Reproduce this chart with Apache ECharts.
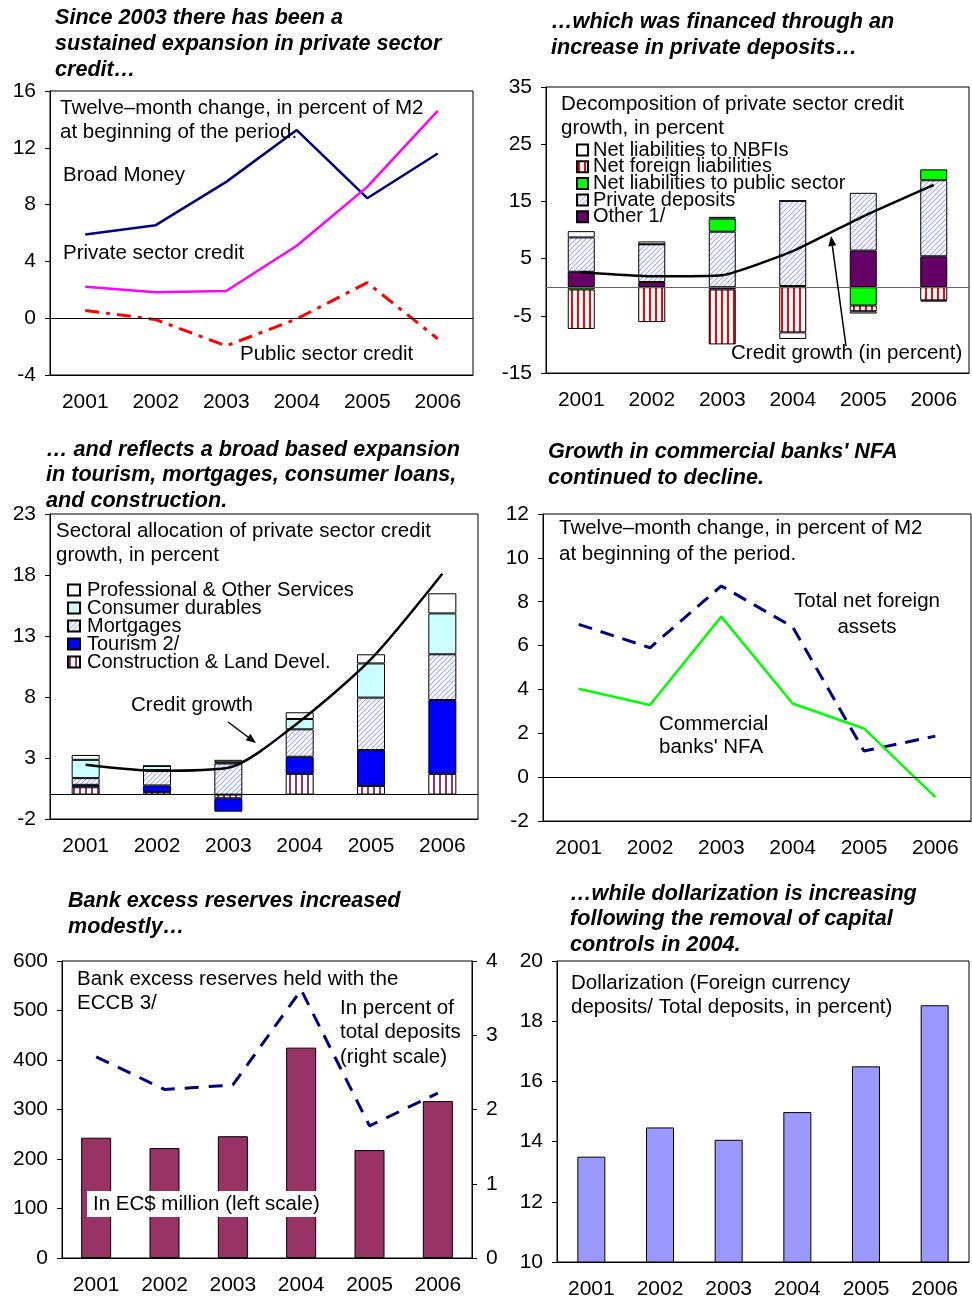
<!DOCTYPE html>
<html>
<head>
<meta charset="utf-8">
<script src="https://cdn.jsdelivr.net/npm/echarts@6/dist/echarts.min.js"></script>
<style>
  html, body { margin: 0; padding: 0; background: #fff; }
  #chart { width: 972px; height: 1301px; }
</style>
</head>
<body>
<div id="chart"></div>
<script>
const years = ['2001', '2002', '2003', '2004', '2005', '2006']

// panel 1 - money and credit
const broadMoney = [5.9, 6.55, 9.6, 13.25, 8.45, 11.6]
const privateCredit = [2.22, 1.82, 1.92, 5.1, 9.25, 14.6]
const publicCredit = [0.55, -0.1, -1.95, -0.05, 2.5, -1.45]

// panel 2 - decomposition of credit growth
const otherDec = [2.7, 0.9, -0.4, 0.2, 6.4, 5.4]
const privDeposits = [6.0, 6.6, 9.7, 14.9, 10.1, 13.3]
const publicLiab = [-0.4, 0, 2.3, 0, -3.2, 1.9]
const foreignLiab = [-6.9, -6.1, -9.6, -7.9, -1.0, -2.3]
const nbfiLiab = [1.1, 0.5, 0.3, -1.15, -0.4, -0.2]
const creditGrowthDec = [2.6, 1.9, 2.1, 6.3, 12.4, 17.9]

// panel 3 - sectoral allocation
const construction = [0.6, 0.2, -0.3, 1.7, 0.7, 1.7]
const tourism = [0.2, 0.55, -1.1, 1.4, 2.95, 6.05]
const mortgages = [0.55, 1.25, 2.55, 2.25, 4.3, 3.75]
const consumer = [1.5, 0.35, 0.1, 0.85, 2.8, 3.35]
const professional = [0.4, 0, 0.2, 0.55, 0.75, 1.65]
const creditGrowthSec = [2.45, 1.95, 2.2, 6.0, 11.1, 18.1]

// panel 4 - NFA
const totalNfa = [6.97, 5.9, 8.72, 6.85, 1.19, 1.87]
const bankNfa = [4.03, 3.29, 7.32, 3.36, 2.22, -0.91]

// panel 5 - excess reserves
const reserves = [243, 222, 246, 425, 218, 317]
const reservesPct = [2.71, 2.27, 2.33, 3.61, 1.78, 2.22]

// panel 6 - dollarization
const dollarization = [13.5, 14.47, 14.06, 14.98, 16.5, 18.53]

const FONT = '"Liberation Sans", Arial, sans-serif'
const NOTE_SIZE = 20.5
const TICK_SIZE = 21

// fill patterns
function stripes(fg, w, period) {
  const c = document.createElement('canvas')
  c.width = period; c.height = 4
  const g = c.getContext('2d')
  g.fillStyle = '#fff'; g.fillRect(0, 0, period, 4)
  g.fillStyle = fg; g.fillRect(1, 0, w, 4)
  return { image: c, repeat: 'repeat' }
}
function hatch(fg, size) {
  const c = document.createElement('canvas')
  c.width = size; c.height = size
  const g = c.getContext('2d')
  g.fillStyle = '#fff'; g.fillRect(0, 0, size, size)
  g.strokeStyle = fg; g.lineWidth = 1.2
  g.beginPath()
  g.moveTo(0, size); g.lineTo(size, 0)
  g.moveTo(-1, 1); g.lineTo(1, -1)
  g.moveTo(size - 1, size + 1); g.lineTo(size + 1, size - 1)
  g.stroke()
  return { image: c, repeat: 'repeat' }
}
const redStripe = stripes('#ff0000', 2, 6)
const plumStripe = stripes('#993366', 2, 6)
const blueHatch = hatch('#a6acf2', 5)

const grids = [
  { left: 50, top: 91, width: 423, height: 284 },
  { left: 546, top: 87, width: 423, height: 286 },
  { left: 50, top: 514, width: 428, height: 305 },
  { left: 543, top: 514, width: 428, height: 307 },
  { left: 62, top: 961, width: 410, height: 297 },
  { left: 557, top: 961, width: 412, height: 301 }
].map(g => Object.assign({ show: true, borderColor: '#000', borderWidth: 1, backgroundColor: 'transparent' }, g))

function xAx(i) {
  return {
    type: 'category', gridIndex: i, data: years,
    axisLine: { onZero: false, lineStyle: { color: '#000' } },
    axisTick: { length: 5, lineStyle: { color: '#000' } },
    axisLabel: { color: '#000', fontSize: TICK_SIZE, fontFamily: FONT, margin: 17 }
  }
}
function yAx(i, min, max, interval, extra) {
  return Object.assign({
    type: 'value', gridIndex: i, min: min, max: max, interval: interval,
    axisLine: { show: true, lineStyle: { color: '#000' } },
    axisTick: { show: true, length: 5, lineStyle: { color: '#000' } },
    splitLine: { show: false },
    axisLabel: { color: '#000', fontSize: TICK_SIZE, fontFamily: FONT, margin: 14 }
  }, extra || {})
}
const zeroLine = {
  silent: true, symbol: 'none', label: { show: false },
  lineStyle: { color: '#000', width: 1, type: 'solid' },
  data: [{ yAxis: 0 }]
}
const barBorder = { borderColor: '#000', borderWidth: 1 }

function titleAt(text, left, top, lh) {
  return {
    text: text, left: left, top: top, padding: 0,
    textStyle: { fontFamily: FONT, fontSize: 21.6, fontWeight: 'bold', fontStyle: 'italic', lineHeight: lh || 26, color: '#000' }
  }
}
function note(text, x, y, lh, extra) {
  return {
    type: 'text', x: x, y: y, silent: true, z: 100,
    style: Object.assign({ text: text, fill: '#000', font: NOTE_SIZE + 'px ' + FONT, lineHeight: lh || 24, textVerticalAlign: 'top' }, extra || {})
  }
}
function arrow(x1, y1, x2, y2) {
  const len = Math.hypot(x2 - x1, y2 - y1)
  const dx = (x2 - x1) / len, dy = (y2 - y1) / len
  const bx = x2 - dx * 10, by = y2 - dy * 10
  return [
    { type: 'line', silent: true, z: 100, shape: { x1: x1, y1: y1, x2: bx, y2: by }, style: { stroke: '#000', lineWidth: 1.5 } },
    { type: 'polygon', silent: true, z: 100, shape: { points: [[x2, y2], [bx - dy * 4, by + dx * 4], [bx + dy * 4, by - dx * 4]] }, style: { fill: '#000' } }
  ]
}

const chart = echarts.init(document.getElementById('chart'), null, { renderer: 'canvas' })
chart.setOption({
  animation: false,
  textStyle: { fontFamily: FONT },
  title: [
    titleAt('Since 2003 there has been a\nsustained expansion in private sector\ncredit…', 55, 5),
    titleAt('…which was financed through an\nincrease in private deposits…', 551, 9),
    titleAt('… and reflects a broad based expansion\nin tourism, mortgages, consumer loans,\nand construction.', 46, 437, 25.5),
    titleAt('Growth in commercial banks\' NFA\ncontinued to decline.', 548, 439),
    titleAt('Bank excess reserves increased\nmodestly…', 68, 888),
    titleAt('…while dollarization is increasing\nfollowing the removal of capital\ncontrols in 2004.', 570, 881, 25.5)
  ],
  legend: [
    {
      left: 576, top: 140, padding: 0, orient: 'vertical', itemGap: -3.3, itemWidth: 11, itemHeight: 11,
      icon: 'rect', selectedMode: false,
      textStyle: { fontSize: 20, color: '#000', fontFamily: FONT },
      data: ['Net liabilities to NBFIs', 'Net foreign liabilities', 'Net liabilities to public sector', 'Private deposits', 'Other 1/']
    },
    {
      left: 67, top: 580, padding: 0, orient: 'vertical', itemGap: -2, itemWidth: 12, itemHeight: 11,
      icon: 'rect', selectedMode: false,
      textStyle: { fontSize: 20, color: '#000', fontFamily: FONT, padding: [0, 0, 0, 2] },
      data: ['Professional & Other Services', 'Consumer durables', 'Mortgages', 'Tourism 2/', 'Construction & Land Devel.']
    }
  ],
  grid: grids,
  xAxis: [xAx(0), xAx(1), xAx(2), xAx(3), xAx(4), xAx(5)],
  yAxis: [
    yAx(0, -4, 16, 4),
    yAx(1, -15, 35, 10),
    yAx(2, -2, 23, 5),
    yAx(3, -2, 12, 2),
    yAx(4, 0, 600, 100),
    yAx(4, 0, 4, 1, { position: 'right', axisLabel: { color: '#000', fontSize: TICK_SIZE, fontFamily: FONT, margin: 14 } }),
    yAx(5, 10, 20, 2)
  ],
  series: [
    // panel 1
    { name: 'Broad Money', type: 'line', xAxisIndex: 0, yAxisIndex: 0, data: broadMoney, symbol: 'none',
      lineStyle: { color: '#000080', width: 2.5 }, markLine: zeroLine },
    { name: 'Private sector credit', type: 'line', xAxisIndex: 0, yAxisIndex: 0, data: privateCredit, symbol: 'none',
      lineStyle: { color: '#ff00ff', width: 2.5 } },
    { name: 'Public sector credit', type: 'line', xAxisIndex: 0, yAxisIndex: 0, data: publicCredit, symbol: 'none',
      lineStyle: { color: '#ff0000', width: 3, type: [14, 7, 4, 7] } },

    // panel 2
    { name: 'Other 1/', type: 'bar', stack: 'dec', xAxisIndex: 1, yAxisIndex: 1, data: otherDec, barWidth: 27,
      itemStyle: Object.assign({ color: '#660066' }, barBorder),
      markLine: Object.assign({}, zeroLine, { lineStyle: { color: '#666', width: 1, type: 'solid' } }) },
    { name: 'Private deposits', type: 'bar', stack: 'dec', xAxisIndex: 1, yAxisIndex: 1, data: privDeposits, barWidth: 27,
      itemStyle: Object.assign({ color: blueHatch }, barBorder) },
    { name: 'Net liabilities to public sector', type: 'bar', stack: 'dec', xAxisIndex: 1, yAxisIndex: 1, data: publicLiab, barWidth: 27,
      itemStyle: Object.assign({ color: '#00ff00' }, barBorder) },
    { name: 'Net foreign liabilities', type: 'bar', stack: 'dec', xAxisIndex: 1, yAxisIndex: 1, data: foreignLiab, barWidth: 27,
      itemStyle: Object.assign({ color: redStripe }, barBorder) },
    { name: 'Net liabilities to NBFIs', type: 'bar', stack: 'dec', xAxisIndex: 1, yAxisIndex: 1, data: nbfiLiab, barWidth: 27,
      itemStyle: Object.assign({ color: '#ffffff' }, barBorder) },
    { name: 'Credit growth (in percent)', type: 'line', xAxisIndex: 1, yAxisIndex: 1, data: creditGrowthDec, symbol: 'none',
      smooth: 0.15, lineStyle: { color: '#000', width: 2.5 }, z: 5 },

    // panel 3
    { name: 'Construction & Land Devel.', type: 'bar', stack: 'sec', xAxisIndex: 2, yAxisIndex: 2, data: construction, barWidth: 28,
      itemStyle: Object.assign({ color: plumStripe }, barBorder), markLine: zeroLine },
    { name: 'Tourism 2/', type: 'bar', stack: 'sec', xAxisIndex: 2, yAxisIndex: 2, data: tourism, barWidth: 28,
      itemStyle: Object.assign({ color: '#0000ff' }, barBorder) },
    { name: 'Mortgages', type: 'bar', stack: 'sec', xAxisIndex: 2, yAxisIndex: 2, data: mortgages, barWidth: 28,
      itemStyle: Object.assign({ color: blueHatch }, barBorder) },
    { name: 'Consumer durables', type: 'bar', stack: 'sec', xAxisIndex: 2, yAxisIndex: 2, data: consumer, barWidth: 28,
      itemStyle: Object.assign({ color: '#ccffff' }, barBorder) },
    { name: 'Professional & Other Services', type: 'bar', stack: 'sec', xAxisIndex: 2, yAxisIndex: 2, data: professional, barWidth: 28,
      itemStyle: Object.assign({ color: '#ffffff' }, barBorder) },
    { name: 'Credit growth', type: 'line', xAxisIndex: 2, yAxisIndex: 2, data: creditGrowthSec, symbol: 'none',
      smooth: 0.25, lineStyle: { color: '#000', width: 2.5 }, z: 5 },

    // panel 4
    { name: 'Total net foreign assets', type: 'line', xAxisIndex: 3, yAxisIndex: 3, data: totalNfa, symbol: 'none',
      lineStyle: { color: '#000080', width: 3, type: [14, 9] }, markLine: zeroLine },
    { name: 'Commercial banks\' NFA', type: 'line', xAxisIndex: 3, yAxisIndex: 3, data: bankNfa, symbol: 'none',
      lineStyle: { color: '#00ff00', width: 2.5 } },

    // panel 5
    { name: 'In EC$ million', type: 'bar', xAxisIndex: 4, yAxisIndex: 4, data: reserves, barWidth: 30,
      itemStyle: Object.assign({ color: '#993366' }, barBorder) },
    { name: 'In percent of total deposits', type: 'line', xAxisIndex: 4, yAxisIndex: 5, data: reservesPct, symbol: 'none',
      lineStyle: { color: '#000080', width: 3, type: [14, 10] }, z: 5 },

    // panel 6
    { name: 'Dollarization', type: 'bar', xAxisIndex: 5, yAxisIndex: 6, data: dollarization, barWidth: 28,
      itemStyle: Object.assign({ color: '#9999ff' }, barBorder) }
  ],
  graphic: [
    note('Twelve–month change, in percent of M2\nat beginning of the period.', 60, 96),
    note('Broad Money', 63, 163),
    note('Private sector credit', 63, 241),
    note('Public sector credit', 240, 342),

    note('Decomposition of private sector credit\ngrowth, in percent', 561, 92),
    note('Credit growth (in percent)', 731, 341),
    ...arrow(846, 346, 831, 236),

    note('Sectoral allocation of private sector credit\ngrowth, in percent', 56, 519),
    note('Credit growth', 131, 693),
    ...arrow(228, 722, 256, 743),

    note('Twelve–month change, in percent of M2\nat beginning of the period.', 559, 515, 26),
    note('Total net foreign\nassets', 867, 588, 26, { textAlign: 'center' }),
    note('Commercial\nbanks\' NFA', 659, 713, 23),

    note('Bank excess reserves held with the\nECCB 3/', 77, 967),
    note('In percent of\ntotal deposits\n(right scale)', 340, 996, 24.5),
    note('In EC$ million (left scale)', 87, 1191, 22, { backgroundColor: '#fff', padding: [2, 6] }),

    note('Dollarization (Foreign currency\ndeposits/ Total deposits, in percent)', 571, 971)
  ]
})
</script>
</body>
</html>
